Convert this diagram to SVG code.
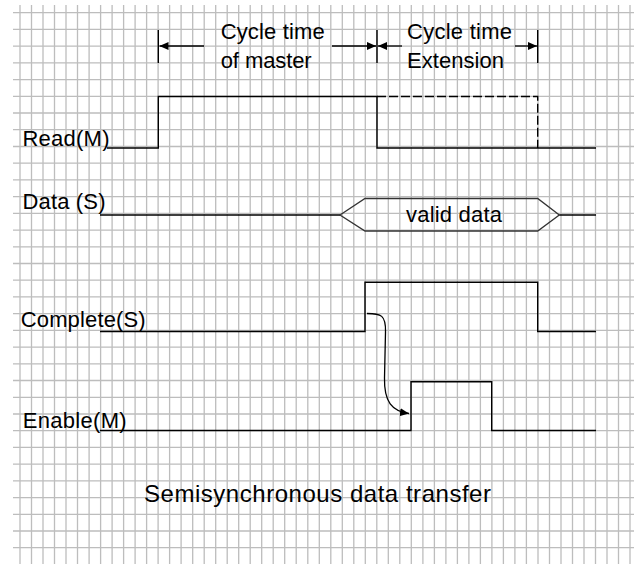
<svg xmlns="http://www.w3.org/2000/svg" width="634" height="564" viewBox="0 0 634 564">
<style>
.grid{stroke:#bdbdbd;stroke-width:1.3;fill:none}
.sig{stroke:#000;stroke-width:1.4;fill:none}
.dash{stroke:#000;stroke-width:1.4;fill:none;stroke-dasharray:9 3}
.hex{stroke:#333;stroke-width:1.3;fill:none}
.conn{stroke:#000;stroke-width:1.3;fill:none}
text{font-family:"Liberation Sans",Arial,sans-serif;font-size:22px;fill:#000}
.title{font-size:24px}
</style>
<defs>
<marker id="ah" markerWidth="9" markerHeight="8" refX="9" refY="4" orient="auto" markerUnits="userSpaceOnUse">
<path d="M0,0 L9,4 L0,8 z" fill="#000"/>
</marker>
</defs>
<rect width="634" height="564" fill="#fff"/>
<g id="grid" class="grid">
<path d="M20,5V564M31.5,5V564M43,5V564M54.5,5V564M66,5V564M77.5,5V564M89.1,5V564M100.6,5V564M112.1,5V564M123.6,5V564M135.1,5V564M146.6,5V564M158.1,5V564M169.6,5V564M181.1,5V564M192.7,5V564M204.2,5V564M215.7,5V564M227.2,5V564M238.7,5V564M250.2,5V564M261.7,5V564M273.2,5V564M284.7,5V564M296.2,5V564M307.8,5V564M319.3,5V564M330.8,5V564M342.3,5V564M353.8,5V564M365.3,5V564M376.8,5V564M388.3,5V564M399.8,5V564M411.3,5V564M422.9,5V564M434.4,5V564M445.9,5V564M457.4,5V564M468.9,5V564M480.4,5V564M491.9,5V564M503.4,5V564M514.9,5V564M526.4,5V564M538,5V564M549.5,5V564M561,5V564M572.5,5V564M584,5V564M595.5,5V564M607,5V564M618.5,5V564M630,5V564"/>
<path d="M13,12.7H634M13,29.4H634M13,46.1H634M13,62.9H634M13,79.6H634M13,96.3H634M13,113H634M13,129.7H634M13,146.5H634M13,163.2H634M13,179.9H634M13,196.6H634M13,213.3H634M13,230.1H634M13,246.8H634M13,263.5H634M13,280.2H634M13,296.9H634M13,313.7H634M13,330.4H634M13,347.1H634M13,363.8H634M13,380.5H634M13,397.3H634M13,414H634M13,430.7H634M13,447.4H634M13,464.1H634M13,480.9H634M13,497.6H634M13,514.3H634M13,531H634M13,547.7H634"/>
</g>
<g id="read">
<text x="22.5" y="146" textLength="87">Read(M)</text>
<path class="sig" d="M107,148H158.3V96.5H377V148H596"/>
<path class="dash" d="M377,96.5H537.7V148"/>
</g>
<g id="data">
<text x="22.5" y="209" textLength="83">Data (S)</text>
<path class="sig" d="M100,215H340M559.3,215H596"/>
<path class="hex" d="M340,215L365,198.5H537.7L559.3,215L537.7,231H365Z"/>
<text x="406" y="221.5" textLength="96">valid data</text>
</g>
<g id="complete">
<text x="20.7" y="327" textLength="125">Complete(S)</text>
<path class="sig" d="M100,331.5H365V282.3H537.7V331.5H596"/>
</g>
<g id="enable">
<text x="22.7" y="428" textLength="104">Enable(M)</text>
<path class="sig" d="M100,430.5H411V381.7H491.7V430.5H596"/>
</g>
<g id="cycle-master">
<path class="sig" d="M158.3,30V63"/>
<text x="220.7" y="39" textLength="104">Cycle time</text>
<text x="220.7" y="68" textLength="91">of master</text>
</g>
<g id="cycle-extension">
<path class="sig" d="M377,30V63M537.7,30V63"/>
<text x="407" y="39" textLength="105">Cycle time</text>
<text x="407" y="68" textLength="97">Extension</text>
</g>
<g id="title">
<text class="title" x="144" y="501.5" textLength="347">Semisynchronous data transfer</text>
</g>
<g id="connectors">
<path class="conn" marker-end="url(#ah)" d="M204,46H159.5"/>
<path class="conn" marker-end="url(#ah)" d="M332,46H376"/>
<path class="conn" marker-end="url(#ah)" d="M402,46H378"/>
<path class="conn" marker-end="url(#ah)" d="M515,46H537"/>
<path class="conn" marker-end="url(#ah)" d="M367,313.5C381,313.5 386,315 385.5,332L384.5,378C384,402 392,411 409,413.5"/>
</g>
</svg>
